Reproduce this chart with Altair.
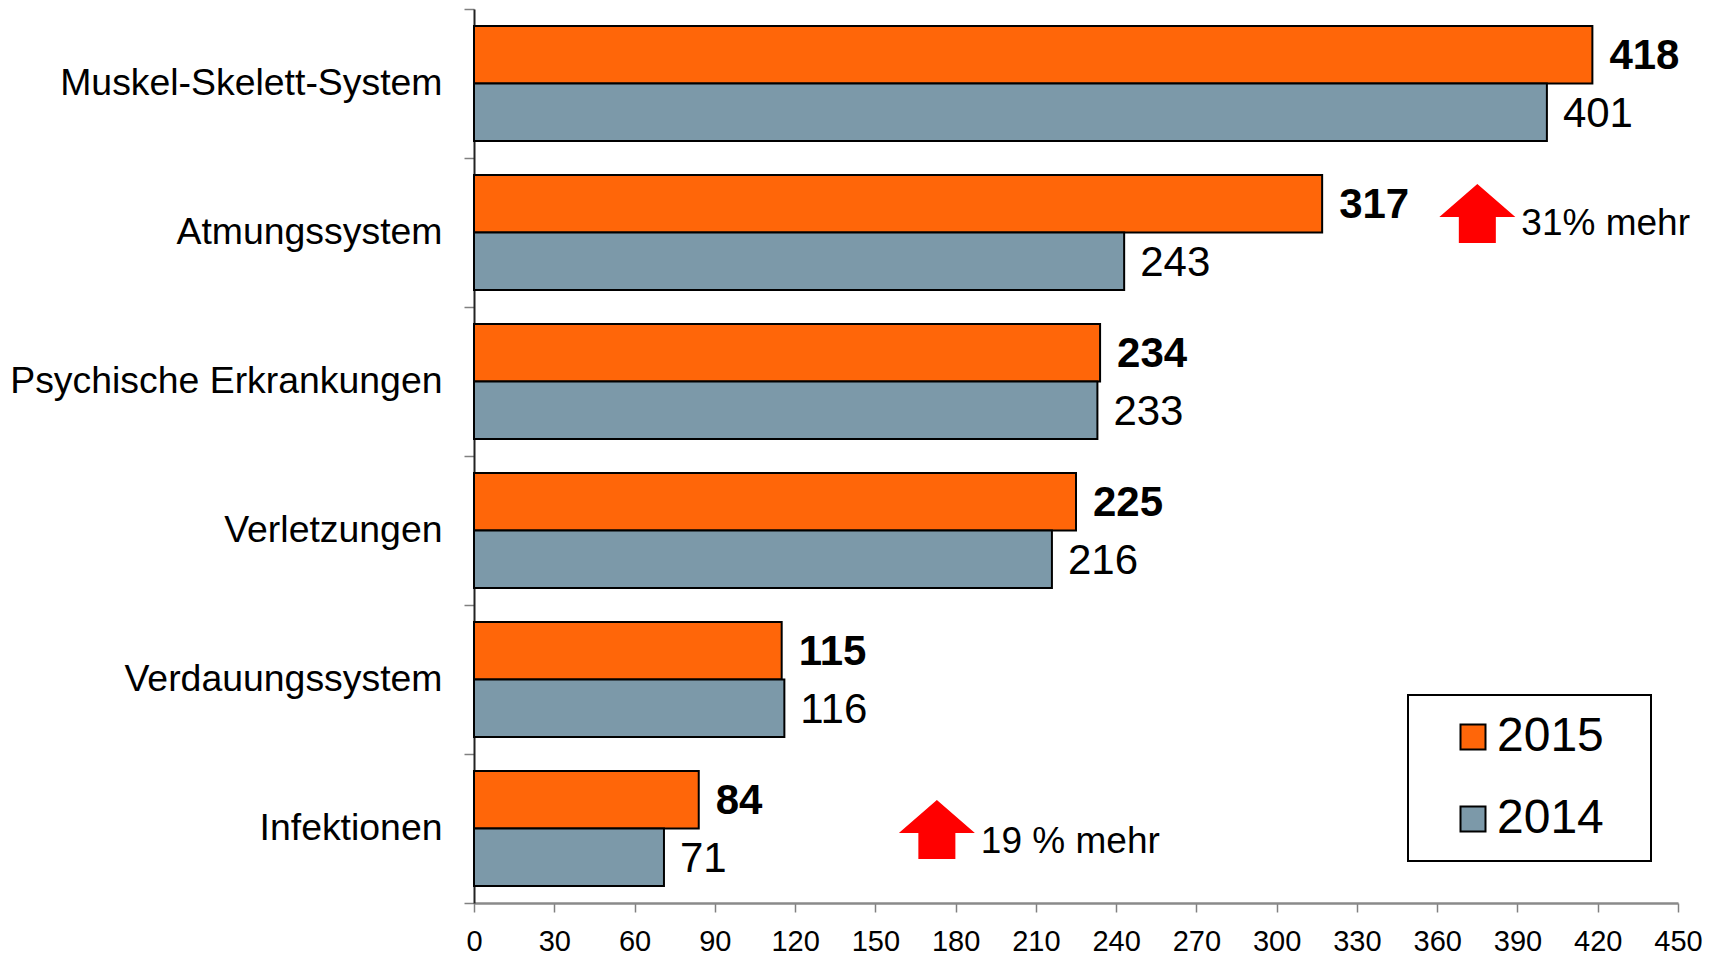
import altair as alt
import pandas as pd

categories = ["Muskel-Skelett-System", "Atmungssystem", "Psychische Erkrankungen",
              "Verletzungen", "Verdauungssystem", "Infektionen"]
years = ["2015", "2014"]
values_2015 = [418, 317, 234, 225, 115, 84]
values_2014 = [401, 243, 233, 216, 116, 71]
x_ticks = list(range(0, 451, 30))

ann_categories = ["Atmungssystem", "Infektionen"]
ann_x = [375, 173]
ann_text = ["31% mehr", "19 % mehr"]

FONT = "Liberation Sans, Arial, sans-serif"
ORANGE = "#FF6609"
GRAY = "#7C99A9"

rows = []
for c, a, b in zip(categories, values_2015, values_2014):
    rows.append({"category": c, "year": "2015", "value": a})
    rows.append({"category": c, "year": "2014", "value": b})
df = pd.DataFrame(rows)

ann = pd.DataFrame({"category": ann_categories, "x": ann_x, "text": ann_text})

xscale = alt.Scale(domain=[0, 450], nice=False)
yenc = alt.Y("category:N", sort=categories,
             scale=alt.Scale(paddingInner=0, paddingOuter=0),
             axis=alt.Axis(title=None, labelFontSize=37.4, labelFont=FONT, labelColor="black",
                           labelPadding=22, tickSize=10, tickColor="#808080", tickWidth=1.5,
                           tickBand="extent",
                           domainColor="#222222", domainWidth=2, labelLimit=600))
yoff = alt.YOffset("year:N", sort=years, scale=alt.Scale(paddingInner=0, paddingOuter=0.296))

bars = alt.Chart(df).mark_bar(stroke="black", strokeWidth=2).encode(
    x=alt.X("value:Q", scale=xscale,
            axis=alt.Axis(title=None, values=x_ticks, grid=False, labelFontSize=29, labelFont=FONT,
                          labelColor="black", labelPadding=15, tickSize=9, tickColor="#808080",
                          tickWidth=1.5, domainColor="#8a8a8a", domainWidth=2.5, labelFlush=False)),
    y=yenc,
    yOffset=yoff,
    color=alt.Color("year:N", scale=alt.Scale(domain=years, range=[ORANGE, GRAY]),
                    legend=alt.Legend(title="\u2014", titleOrient="right", titleColor="white",
                                      titleFontSize=20, titlePadding=9,
                                      orient="none", legendX=934, legendY=686,
                                      symbolType="square", symbolSize=625,
                                      symbolStrokeColor="black", symbolStrokeWidth=2,
                                      symbolOffset=23, labelOffset=0,
                                      labelFontSize=48, labelFont=FONT, labelColor="black",
                                      rowPadding=34, padding=18,
                                      strokeColor="black")),
)

lab15 = alt.Chart(df).transform_filter(alt.datum.year == "2015").mark_text(
    align="left", baseline="middle", dx=17, dy=1, fontSize=42, fontWeight="bold", font=FONT, color="black"
).encode(x=alt.X("value:Q", scale=xscale), y=alt.Y("category:N", sort=categories), yOffset=yoff,
         text="value:Q")

lab14 = alt.Chart(df).transform_filter(alt.datum.year == "2014").mark_text(
    align="left", baseline="middle", dx=16, dy=2, fontSize=42, font=FONT, color="black"
).encode(x=alt.X("value:Q", scale=xscale), y=alt.Y("category:N", sort=categories), yOffset=yoff,
         text="value:Q")

ARROW = "M0,-0.776L1,0.092L0.487,0.092L0.487,0.776L-0.487,0.776L-0.487,0.092L-1,0.092Z"
ann_offsets = [(-19, 10), (1, 12)]
ann_layers = []
for i, (ay, ty) in enumerate(ann_offsets):
    sub = alt.Chart(ann).transform_filter(alt.datum.category == ann_categories[i])
    arrow = sub.mark_point(shape=ARROW, filled=True, fill="#FF0000", opacity=1,
                           size=5776, yOffset=ay).encode(
        x=alt.X("x:Q", scale=xscale), y=alt.Y("category:N", sort=categories))
    txt = sub.mark_text(align="left", baseline="middle", dx=44, dy=ty + ay, fontSize=37, font=FONT,
                        color="black").encode(
        x=alt.X("x:Q", scale=xscale), y=alt.Y("category:N", sort=categories), text="text:N")
    ann_layers += [arrow, txt]

chart = alt.layer(bars, lab15, lab14, *ann_layers).properties(
    width=1204, height=894,
    autosize=alt.AutoSizeParams(type="none"),
    padding={"left": 466, "top": 1, "right": 30, "bottom": 55},
).configure_view(stroke=None).configure_legend(strokeWidth=2)

chart.save("out.html", embed_options={"renderer": "svg", "actions": False})
